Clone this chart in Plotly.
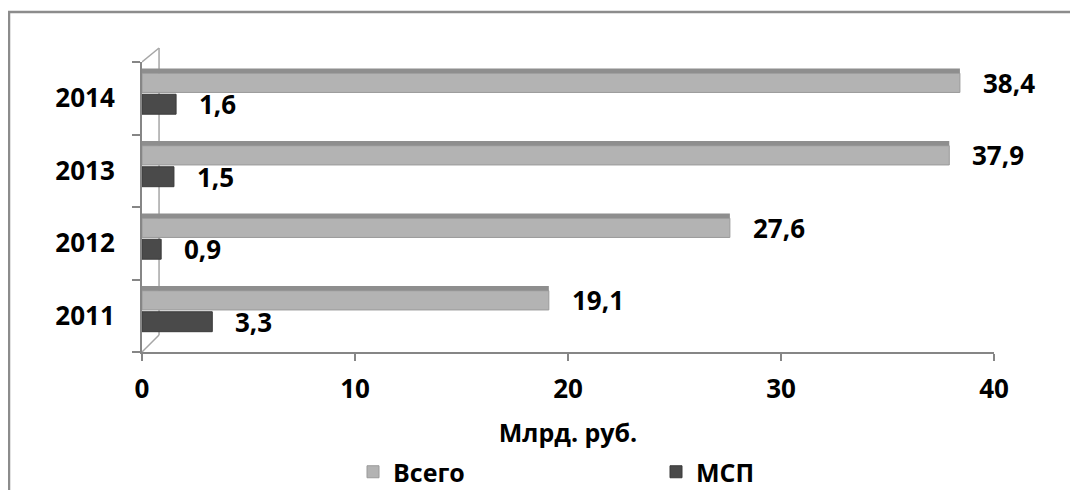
import plotly.graph_objects as go

years = ["2011", "2012", "2013", "2014"]
total = [19.1, 27.6, 37.9, 38.4]
msp = [3.3, 0.9, 1.5, 1.6]
total_name = "Всего"
msp_name = "МСП"
x_title = "Млрд. руб."
x_ticks = [0, 10, 20, 30, 40]

def fmt(v):
    return f"{v:.1f}".replace(".", ",")

FONT = "Open Sans"
# page body has an 8px margin, so figure coords = screen coords - 8
W, H = 1070, 482
L, R, T, B = 134, 84, 54, 138
pw = W - L - R
ph = H - T - B

fig = go.Figure()

# Всего: front face + darker top face
fig.add_trace(go.Bar(
    y=years, x=total, orientation="h", name=total_name,
    marker=dict(color="#b3b3b3", line=dict(color="#9a9a9a", width=1)),
    offset=0.08, width=0.265, hoverinfo="x+y",
))
fig.add_trace(go.Bar(
    y=years, x=total, orientation="h", name=total_name, showlegend=False,
    marker=dict(color="#8e8e8e", line=dict(width=0)),
    offset=0.345, width=0.065, hoverinfo="skip",
))
fig.add_trace(go.Bar(
    y=years, x=msp, orientation="h", name=msp_name,
    marker=dict(color="#4a4a4a", line=dict(color="#3a3a3a", width=1)),
    offset=-0.22, width=0.275, hoverinfo="x+y",
))

lab_font = dict(family=FONT, size=26, color="black", weight="bold")
annotations = []
for i, (t, m) in enumerate(zip(total, msp)):
    annotations.append(dict(x=t, y=i + 0.08 + 0.265 / 2, xref="x", yref="y",
                            text=fmt(t), showarrow=False, xanchor="left",
                            xshift=21, font=lab_font))
    annotations.append(dict(x=m, y=i - 0.22 + 0.275 / 2, xref="x", yref="y",
                            text=fmt(m), showarrow=False, xanchor="left",
                            xshift=21, font=lab_font))

gray = "#868686"
back = 0.8
yb = 17 / ph
yt = (ph + 14) / ph
shapes = [
    # outer chart border
    dict(type="rect", xref="paper", yref="paper", x0=(1 - L) / pw, x1=1.3,
         y0=-0.7, y1=(H - B - 4) / ph, line=dict(color="#8c8c8c", width=2.5)),
    # 3D back wall lines
    dict(type="line", xref="x", yref="paper", x0=back, x1=back, y0=yb, y1=yt,
         line=dict(color="#a6a6a6", width=1.5), layer="below"),
    dict(type="line", xref="x", yref="paper", x0=0, x1=back, y0=0, y1=yb,
         line=dict(color="#a6a6a6", width=1.5), layer="below"),
    dict(type="line", xref="x", yref="paper", x0=0, x1=back, y0=1, y1=yt,
         line=dict(color="#a6a6a6", width=1.5), layer="below"),
]

fig.update_layout(
    width=W, height=H,
    margin=dict(l=L, r=R, t=T, b=B, autoexpand=False),
    paper_bgcolor="white", plot_bgcolor="white",
    barmode="overlay",
    font=dict(family=FONT, color="black", size=24),
    showlegend=True,
    legend=dict(orientation="h", x=(345 - L) / pw, xanchor="left",
                y=(H - B - 464) / ph, yanchor="middle",
                entrywidth=258, entrywidthmode="pixels",
                font=dict(family=FONT, size=25, color="black", weight="bold"),
                traceorder="normal"),
    xaxis=dict(range=[0, 40], tickvals=x_ticks, showgrid=False, zeroline=False,
               showline=True, linecolor=gray, linewidth=2, automargin=False,
               ticks="outside", ticklen=7, tickcolor=gray, tickwidth=2,
               ticklabelstandoff=6,
               tickfont=dict(family=FONT, size=26, color="black", weight="bold"),
               title=dict(text=x_title, standoff=19,
                          font=dict(family=FONT, size=25, color="black", weight="bold"))),
    yaxis=dict(type="category", categoryorder="array", categoryarray=years,
               range=[-0.5, 3.5], showgrid=False, zeroline=False, automargin=False,
               showline=True, linecolor=gray, linewidth=2,
               ticks="outside", ticklen=8, tickcolor=gray, tickwidth=2,
               tickson="boundaries", ticklabelstandoff=20,
               tickfont=dict(family=FONT, size=26, color="black", weight="bold")),
    annotations=annotations,
    shapes=shapes,
)

fig.write_html("out.html")
